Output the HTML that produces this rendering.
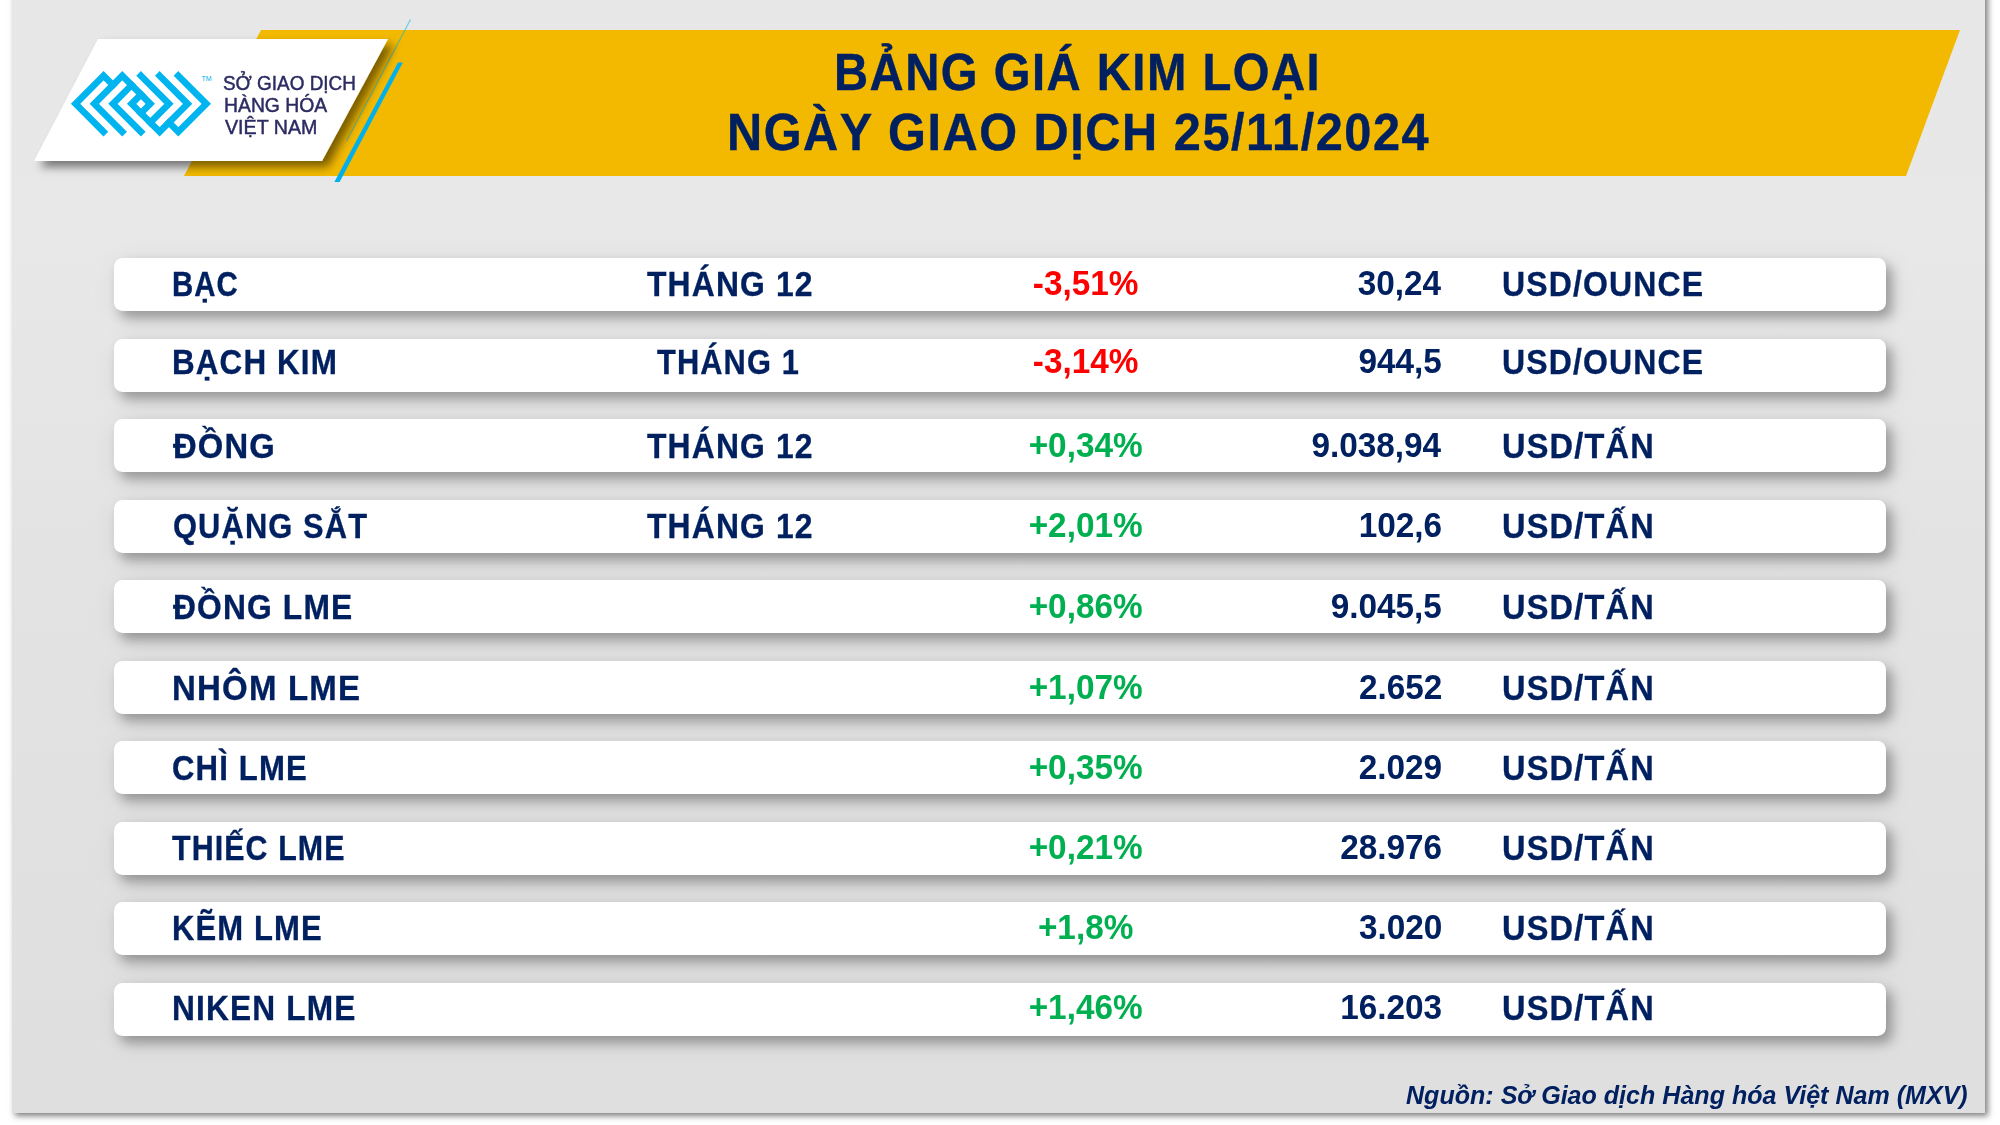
<!DOCTYPE html>
<html><head><meta charset="utf-8">
<style>
*{margin:0;padding:0;box-sizing:border-box}
html,body{width:2000px;height:1125px;overflow:hidden;background:#fff}
body{position:relative;font-family:"Liberation Sans",sans-serif}
#panel{position:absolute;left:12px;top:-10px;width:1973px;height:1122.7px;background:linear-gradient(#e7e7e7,#e8e8e8 23%,#e3e3e3 50%,#dfdfdf);box-shadow:3px 3px 6px rgba(0,0,0,.5)}
.abs{position:absolute}
.row{position:absolute;left:114px;width:1772px;height:53.1px;background:#fff;border-radius:8.5px;box-shadow:6px 7px 12px rgba(0,0,0,.3),4px 6px 30px rgba(0,0,0,.08)}
.t{position:absolute;white-space:nowrap;transform-origin:0 0.8467em}
</style></head><body>
<div id="panel"></div>
<svg class="abs" style="left:0;top:0" width="2000" height="1125" viewBox="0 0 2000 1125">
  <defs>
    <filter id="sh" x="-20%" y="-20%" width="150%" height="160%">
      <feGaussianBlur in="SourceAlpha" stdDeviation="5"/>
      <feOffset dx="6" dy="6" result="b"/>
      <feFlood flood-color="#000" flood-opacity=".5"/>
      <feComposite in2="b" operator="in"/>
      <feMerge><feMergeNode/><feMergeNode in="SourceGraphic"/></feMerge>
    </filter>
  </defs>
  <polygon points="261,30 1960,30 1906,176 184,176" fill="#f2b900"/>
  <line x1="410.5" y1="19.5" x2="346.5" y2="141" stroke="#00aeef" stroke-opacity=".5" stroke-width="1.3"/>
  <polygon points="398,62.5 402.8,62.5 339.6,182 334.4,182" fill="#00b0ec"/>
  <polygon points="98,39 388,39 322,161 34,161" fill="#fff" filter="url(#sh)"/>
  <g transform="translate(140.95 103.8) scale(4.67)" fill="none" stroke="#00b5ef" stroke-width="1.414" stroke-linecap="square" stroke-linejoin="miter">
    <polyline points="-8,6 -14,0 -8,-6 -6,-4"/>
    <polyline points="-4,6 -10,0 -4,-6 2,0 0,2"/>
    <polyline points="0,6 -6,0 -2,-4"/>
    <polyline points="8,-6 14,0 8,6 6,4"/>
    <polyline points="4,-6 10,0 4,6 -2,0 0,-2"/>
    <polyline points="0,-6 6,0 2,4"/>
  </g>
  <text x="201.5" y="81" font-size="7" fill="#00b5ef" font-family="Liberation Sans">TM</text>
</svg>
<div class="t" style="left:833.85px;top:48.00px;font:normal bold 50.4px/1 'Liberation Sans',sans-serif;color:#002060;letter-spacing:1.6px;transform:scale(0.9372,1.0380);-webkit-text-stroke:0.4px #002060">BẢNG GIÁ KIM LOẠI</div>
<div class="t" style="left:726.56px;top:108.00px;font:normal bold 50.4px/1 'Liberation Sans',sans-serif;color:#002060;letter-spacing:1.6px;transform:scale(0.9658,1.0380);-webkit-text-stroke:0.4px #002060">NGÀY GIAO DỊCH 25/11/2024</div>
<div class="t" style="left:1405.50px;top:1083.00px;font:italic bold 25.1px/1 'Liberation Sans',sans-serif;color:#002060;transform:scale(0.9987,1.0420)">Nguồn: Sở Giao dịch Hàng hóa Việt Nam (MXV)</div>
<div class="t" style="left:223.42px;top:74.00px;font:normal normal 19.3px/1 'Liberation Sans',sans-serif;color:#2c2b62;transform:scale(0.9812,1.0300);-webkit-text-stroke:0.45px #2c2b62">SỞ GIAO DỊCH</div>
<div class="t" style="left:224.39px;top:96.00px;font:normal normal 19.3px/1 'Liberation Sans',sans-serif;color:#2c2b62;transform:scale(1.0035,1.0300);-webkit-text-stroke:0.45px #2c2b62">HÀNG HÓA</div>
<div class="t" style="left:224.50px;top:118.00px;font:normal normal 19.3px/1 'Liberation Sans',sans-serif;color:#2c2b62;transform:scale(1.0197,1.0300);-webkit-text-stroke:0.45px #2c2b62">VIỆT NAM</div>
<div class="row" style="top:257.97px"></div>
<div class="row" style="top:338.84px"></div>
<div class="row" style="top:418.84px"></div>
<div class="row" style="top:499.90px"></div>
<div class="row" style="top:579.90px"></div>
<div class="row" style="top:660.90px"></div>
<div class="row" style="top:740.90px"></div>
<div class="row" style="top:821.80px"></div>
<div class="row" style="top:901.80px"></div>
<div class="row" style="top:982.70px"></div>
<div class="t" style="left:172.21px;top:268.00px;font:normal bold 33.33px/1 'Liberation Sans',sans-serif;color:#002060;letter-spacing:1.2px;transform:scale(0.8825,1.0350);-webkit-text-stroke:0.3px #002060">BẠC</div>
<div class="t" style="left:647.26px;top:268.00px;font:normal bold 33.33px/1 'Liberation Sans',sans-serif;color:#002060;letter-spacing:1.2px;transform:scale(0.9555,1.0350);-webkit-text-stroke:0.3px #002060">THÁNG 12</div>
<div class="t" style="left:1032.80px;top:267.00px;font:normal bold 33.33px/1 'Liberation Sans',sans-serif;color:#ff0000;transform:scale(1.0000,1.0400)">-3,51%</div>
<div class="t" style="left:1357.65px;top:267.00px;font:normal bold 33.33px/1 'Liberation Sans',sans-serif;color:#002060;transform:scale(1.0000,1.0400)">30,24</div>
<div class="t" style="left:1501.78px;top:268.00px;font:normal bold 33.33px/1 'Liberation Sans',sans-serif;color:#002060;letter-spacing:1.2px;transform:scale(0.9595,1.0350);-webkit-text-stroke:0.3px #002060">USD/OUNCE</div>
<div class="t" style="left:172.08px;top:346.00px;font:normal bold 33.33px/1 'Liberation Sans',sans-serif;color:#002060;letter-spacing:1.2px;transform:scale(0.9419,1.0350);-webkit-text-stroke:0.3px #002060">BẠCH KIM</div>
<div class="t" style="left:657.07px;top:346.00px;font:normal bold 33.33px/1 'Liberation Sans',sans-serif;color:#002060;letter-spacing:1.2px;transform:scale(0.9241,1.0350);-webkit-text-stroke:0.3px #002060">THÁNG 1</div>
<div class="t" style="left:1032.80px;top:345.00px;font:normal bold 33.33px/1 'Liberation Sans',sans-serif;color:#ff0000;transform:scale(1.0000,1.0400)">-3,14%</div>
<div class="t" style="left:1358.40px;top:345.00px;font:normal bold 33.33px/1 'Liberation Sans',sans-serif;color:#002060;transform:scale(1.0000,1.0400)">944,5</div>
<div class="t" style="left:1501.78px;top:346.00px;font:normal bold 33.33px/1 'Liberation Sans',sans-serif;color:#002060;letter-spacing:1.2px;transform:scale(0.9595,1.0350);-webkit-text-stroke:0.3px #002060">USD/OUNCE</div>
<div class="t" style="left:172.90px;top:430.00px;font:normal bold 33.33px/1 'Liberation Sans',sans-serif;color:#002060;letter-spacing:1.2px;transform:scale(0.9833,1.0350);-webkit-text-stroke:0.3px #002060">ĐỒNG</div>
<div class="t" style="left:647.26px;top:430.00px;font:normal bold 33.33px/1 'Liberation Sans',sans-serif;color:#002060;letter-spacing:1.2px;transform:scale(0.9555,1.0350);-webkit-text-stroke:0.3px #002060">THÁNG 12</div>
<div class="t" style="left:1028.67px;top:429.00px;font:normal bold 33.33px/1 'Liberation Sans',sans-serif;color:#00b050;transform:scale(1.0000,1.0400)">+0,34%</div>
<div class="t" style="left:1311.40px;top:429.00px;font:normal bold 33.33px/1 'Liberation Sans',sans-serif;color:#002060;transform:scale(1.0000,1.0400)">9.038,94</div>
<div class="t" style="left:1501.75px;top:430.00px;font:normal bold 33.33px/1 'Liberation Sans',sans-serif;color:#002060;letter-spacing:1.2px;transform:scale(0.9768,1.0350);-webkit-text-stroke:0.3px #002060">USD/TẤN</div>
<div class="t" style="left:173.04px;top:510.00px;font:normal bold 33.33px/1 'Liberation Sans',sans-serif;color:#002060;letter-spacing:1.2px;transform:scale(0.9260,1.0350);-webkit-text-stroke:0.3px #002060">QUẶNG SẮT</div>
<div class="t" style="left:647.26px;top:510.00px;font:normal bold 33.33px/1 'Liberation Sans',sans-serif;color:#002060;letter-spacing:1.2px;transform:scale(0.9555,1.0350);-webkit-text-stroke:0.3px #002060">THÁNG 12</div>
<div class="t" style="left:1028.67px;top:509.00px;font:normal bold 33.33px/1 'Liberation Sans',sans-serif;color:#00b050;transform:scale(1.0000,1.0400)">+2,01%</div>
<div class="t" style="left:1358.65px;top:509.00px;font:normal bold 33.33px/1 'Liberation Sans',sans-serif;color:#002060;transform:scale(1.0000,1.0400)">102,6</div>
<div class="t" style="left:1501.75px;top:510.00px;font:normal bold 33.33px/1 'Liberation Sans',sans-serif;color:#002060;letter-spacing:1.2px;transform:scale(0.9768,1.0350);-webkit-text-stroke:0.3px #002060">USD/TẤN</div>
<div class="t" style="left:172.70px;top:591.00px;font:normal bold 33.33px/1 'Liberation Sans',sans-serif;color:#002060;letter-spacing:1.2px;transform:scale(0.9531,1.0350);-webkit-text-stroke:0.3px #002060">ĐỒNG LME</div>
<div class="t" style="left:1028.67px;top:590.00px;font:normal bold 33.33px/1 'Liberation Sans',sans-serif;color:#00b050;transform:scale(1.0000,1.0400)">+0,86%</div>
<div class="t" style="left:1330.65px;top:590.00px;font:normal bold 33.33px/1 'Liberation Sans',sans-serif;color:#002060;transform:scale(1.0000,1.0400)">9.045,5</div>
<div class="t" style="left:1501.75px;top:591.00px;font:normal bold 33.33px/1 'Liberation Sans',sans-serif;color:#002060;letter-spacing:1.2px;transform:scale(0.9768,1.0350);-webkit-text-stroke:0.3px #002060">USD/TẤN</div>
<div class="t" style="left:171.87px;top:672.00px;font:normal bold 33.33px/1 'Liberation Sans',sans-serif;color:#002060;letter-spacing:1.2px;transform:scale(0.9901,1.0350);-webkit-text-stroke:0.3px #002060">NHÔM LME</div>
<div class="t" style="left:1028.67px;top:671.00px;font:normal bold 33.33px/1 'Liberation Sans',sans-serif;color:#00b050;transform:scale(1.0000,1.0400)">+1,07%</div>
<div class="t" style="left:1358.90px;top:671.00px;font:normal bold 33.33px/1 'Liberation Sans',sans-serif;color:#002060;transform:scale(1.0000,1.0400)">2.652</div>
<div class="t" style="left:1501.75px;top:672.00px;font:normal bold 33.33px/1 'Liberation Sans',sans-serif;color:#002060;letter-spacing:1.2px;transform:scale(0.9768,1.0350);-webkit-text-stroke:0.3px #002060">USD/TẤN</div>
<div class="t" style="left:172.13px;top:752.00px;font:normal bold 33.33px/1 'Liberation Sans',sans-serif;color:#002060;letter-spacing:1.2px;transform:scale(0.9340,1.0350);-webkit-text-stroke:0.3px #002060">CHÌ LME</div>
<div class="t" style="left:1028.67px;top:751.00px;font:normal bold 33.33px/1 'Liberation Sans',sans-serif;color:#00b050;transform:scale(1.0000,1.0400)">+0,35%</div>
<div class="t" style="left:1358.65px;top:751.00px;font:normal bold 33.33px/1 'Liberation Sans',sans-serif;color:#002060;transform:scale(1.0000,1.0400)">2.029</div>
<div class="t" style="left:1501.75px;top:752.00px;font:normal bold 33.33px/1 'Liberation Sans',sans-serif;color:#002060;letter-spacing:1.2px;transform:scale(0.9768,1.0350);-webkit-text-stroke:0.3px #002060">USD/TẤN</div>
<div class="t" style="left:172.47px;top:832.00px;font:normal bold 33.33px/1 'Liberation Sans',sans-serif;color:#002060;letter-spacing:1.2px;transform:scale(0.9119,1.0350);-webkit-text-stroke:0.3px #002060">THIẾC LME</div>
<div class="t" style="left:1028.67px;top:831.00px;font:normal bold 33.33px/1 'Liberation Sans',sans-serif;color:#00b050;transform:scale(1.0000,1.0400)">+0,21%</div>
<div class="t" style="left:1340.15px;top:831.00px;font:normal bold 33.33px/1 'Liberation Sans',sans-serif;color:#002060;transform:scale(1.0000,1.0400)">28.976</div>
<div class="t" style="left:1501.75px;top:832.00px;font:normal bold 33.33px/1 'Liberation Sans',sans-serif;color:#002060;letter-spacing:1.2px;transform:scale(0.9768,1.0350);-webkit-text-stroke:0.3px #002060">USD/TẤN</div>
<div class="t" style="left:172.01px;top:912.00px;font:normal bold 33.33px/1 'Liberation Sans',sans-serif;color:#002060;letter-spacing:1.2px;transform:scale(0.9304,1.0350);-webkit-text-stroke:0.3px #002060">KẼM LME</div>
<div class="t" style="left:1037.92px;top:911.00px;font:normal bold 33.33px/1 'Liberation Sans',sans-serif;color:#00b050;transform:scale(1.0000,1.0400)">+1,8%</div>
<div class="t" style="left:1358.90px;top:911.00px;font:normal bold 33.33px/1 'Liberation Sans',sans-serif;color:#002060;transform:scale(1.0000,1.0400)">3.020</div>
<div class="t" style="left:1501.75px;top:912.00px;font:normal bold 33.33px/1 'Liberation Sans',sans-serif;color:#002060;letter-spacing:1.2px;transform:scale(0.9768,1.0350);-webkit-text-stroke:0.3px #002060">USD/TẤN</div>
<div class="t" style="left:171.96px;top:992.00px;font:normal bold 33.33px/1 'Liberation Sans',sans-serif;color:#002060;letter-spacing:1.2px;transform:scale(0.9504,1.0350);-webkit-text-stroke:0.3px #002060">NIKEN LME</div>
<div class="t" style="left:1028.67px;top:991.00px;font:normal bold 33.33px/1 'Liberation Sans',sans-serif;color:#00b050;transform:scale(1.0000,1.0400)">+1,46%</div>
<div class="t" style="left:1340.15px;top:991.00px;font:normal bold 33.33px/1 'Liberation Sans',sans-serif;color:#002060;transform:scale(1.0000,1.0400)">16.203</div>
<div class="t" style="left:1501.75px;top:992.00px;font:normal bold 33.33px/1 'Liberation Sans',sans-serif;color:#002060;letter-spacing:1.2px;transform:scale(0.9768,1.0350);-webkit-text-stroke:0.3px #002060">USD/TẤN</div>
</body></html>
